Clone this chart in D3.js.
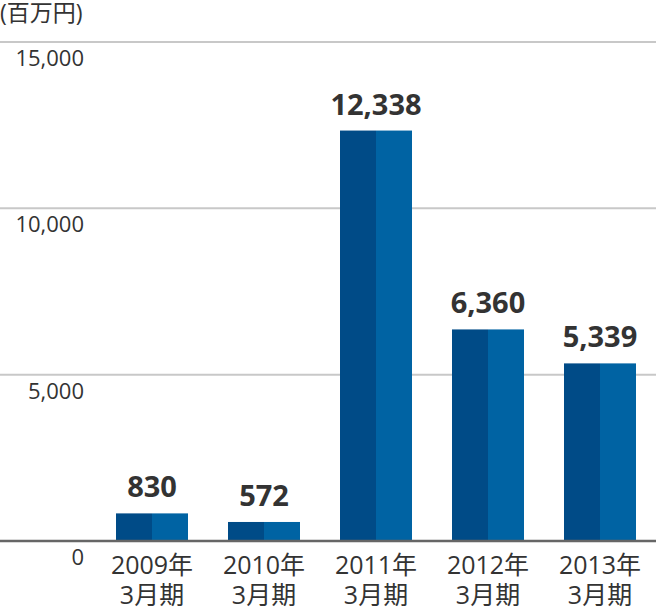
<!DOCTYPE html>
<html><head><meta charset="utf-8">
<script src="https://cdn.jsdelivr.net/npm/d3@7"></script>
<style>body{margin:0;background:#fff}svg{display:block}</style>
</head><body>
<svg id="c" width="656" height="612"></svg>
<script>
const years = ["2009年","2010年","2011年","2012年","2013年"];
const periods = ["3月期","3月期","3月期","3月期","3月期"];
const values = [830, 572, 12338, 6360, 5339];
const valueLabels = ["830","572","12,338","6,360","5,339"];
const yTicks = [0, 5000, 10000, 15000];
const yTickLabels = ["0","5,000","10,000","15,000"];
const unitLabel = "(百万円)";

const svg = d3.select("#c");
const font = "'Open Sans','Noto Sans CJK JP',sans-serif";
const y = d3.scaleLinear().domain([0,15000]).range([541,42]);
const x = d3.scaleBand().domain(d3.range(values.length)).range([96,656])
  .paddingInner(40/112).paddingOuter(20/112);

// grid
svg.selectAll("line.g").data(yTicks.filter(d=>d>0)).join("line")
  .attr("x1",0).attr("x2",656).attr("y1",d=>y(d)).attr("y2",d=>y(d))
  .attr("stroke","#c8c8c8").attr("stroke-width",2);

// tick labels
svg.selectAll("text.t").data(yTicks).join("text")
  .attr("x",84).attr("y",d=>y(d)+24).attr("text-anchor","end")
  .attr("font-family",font).attr("font-size",22).attr("fill","#333")
  .text((d,i)=>yTickLabels[i]);

// bars
const g = svg.selectAll("g.b").data(values).join("g");
g.append("rect").attr("x",(d,i)=>x(i)).attr("width",x.bandwidth()/2)
  .attr("y",d=>y(d)).attr("height",d=>y(0)-y(d)).attr("fill","#004b87");
g.append("rect").attr("x",(d,i)=>x(i)+x.bandwidth()/2).attr("width",x.bandwidth()/2)
  .attr("y",d=>y(d)).attr("height",d=>y(0)-y(d)).attr("fill","#0063a3");
g.append("text").attr("x",(d,i)=>x(i)+x.bandwidth()/2).attr("y",d=>y(d)-16)
  .attr("text-anchor","middle").attr("font-family",font).attr("font-weight","bold")
  .attr("font-size",29).attr("fill","#333").text((d,i)=>valueLabels[i]);

// baseline
svg.append("line").attr("x1",0).attr("x2",656).attr("y1",y(0)).attr("y2",y(0))
  .attr("stroke","#666").attr("stroke-width",2.5);

// x labels (two separate lines)
svg.selectAll("text.x1").data(years).join("text")
  .attr("text-anchor","middle").attr("font-family",font).attr("font-size",25).attr("fill","#333")
  .attr("x",(d,i)=>x(i)+x.bandwidth()/2).attr("y",574).text(d=>d);
svg.selectAll("text.x2").data(periods).join("text")
  .attr("text-anchor","middle").attr("font-family",font).attr("font-size",25).attr("fill","#333")
  .attr("x",(d,i)=>x(i)+x.bandwidth()/2).attr("y",604).text(d=>d);

// unit
svg.append("text").attr("x",0).attr("y",21).attr("font-family",font).attr("font-size",23)
  .attr("fill","#333").text(unitLabel);
</script>
</body></html>
